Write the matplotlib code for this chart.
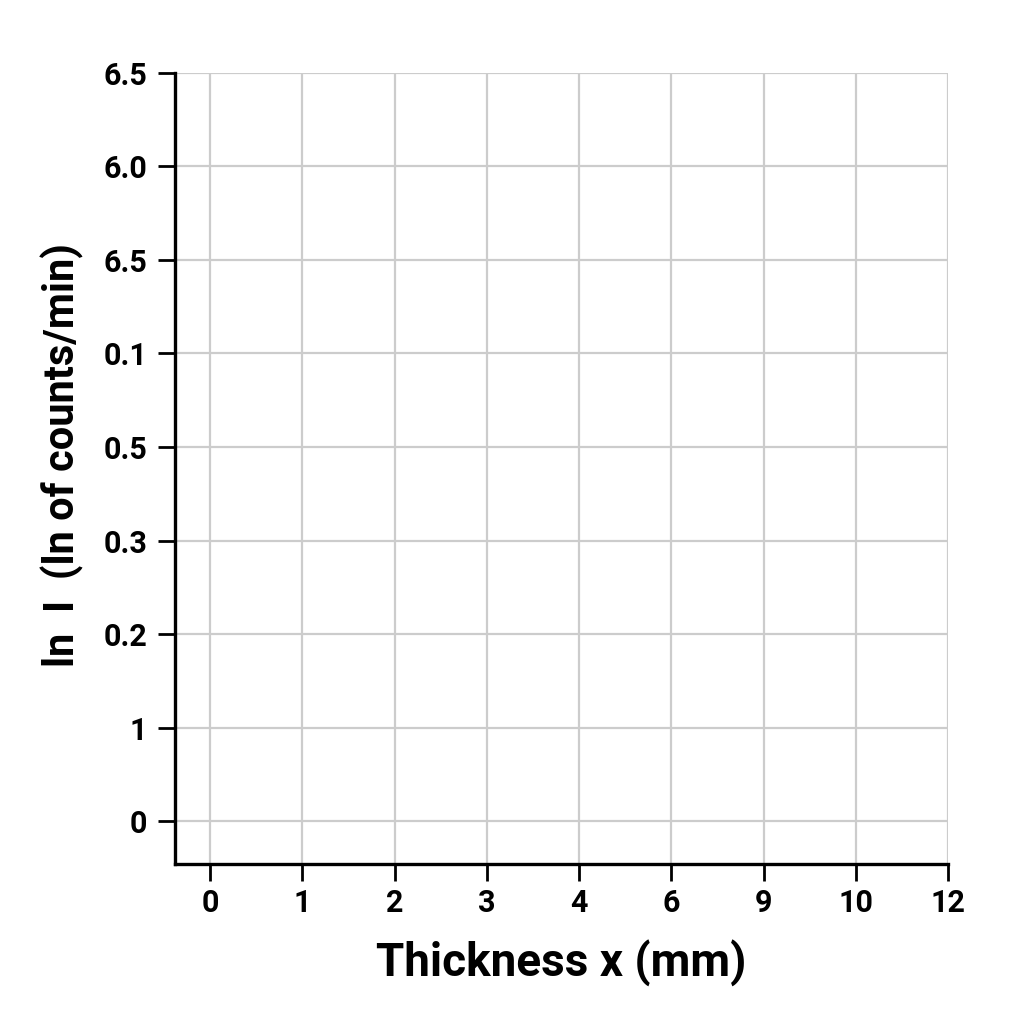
import matplotlib
matplotlib.use("Agg")
import matplotlib.pyplot as plt

# tick labels as printed on the chart (not evenly spaced values)
x_labels = ["0", "1", "2", "3", "4", "6", "9", "10", "12"]
y_labels = ["0", "1", "0.2", "0.3", "0.5", "0.1", "6.5", "6.0", "6.5"]

plt.rcParams['font.family'] = ['Roboto', 'DejaVu Sans']

fig = plt.figure(figsize=(10.24, 10.24), dpi=100)
ax = fig.add_axes([0.171, 0.156, 0.755, 0.773])

xpos = list(range(len(x_labels)))
ypos = list(range(len(y_labels)))
ax.set_xticks(xpos)
ax.set_xticklabels(x_labels, fontsize=22, fontweight='bold')
ax.set_yticks(ypos)
ax.set_yticklabels(y_labels, fontsize=22, fontweight='bold')
ax.set_xlim(-0.38, xpos[-1])
ax.set_ylim(-0.46, ypos[-1])

ax.grid(True, color='#cccccc', linewidth=1.6)
ax.set_axisbelow(True)
for s in ['top', 'right']:
    ax.spines[s].set_visible(False)
for s in ['left', 'bottom']:
    ax.spines[s].set_linewidth(2.4)
ax.tick_params(length=12, width=2, pad=8)
ax.tick_params(axis='x', pad=5)

ax.set_xlabel("Thickness x (mm)", fontsize=33, fontweight='bold', labelpad=16)
ax.set_ylabel("ln  I  (ln of counts/min)", fontsize=30, fontweight='bold')
ax.yaxis.set_label_coords(-0.118, 0.517)

fig.savefig("out.png", dpi=100, facecolor='white')
